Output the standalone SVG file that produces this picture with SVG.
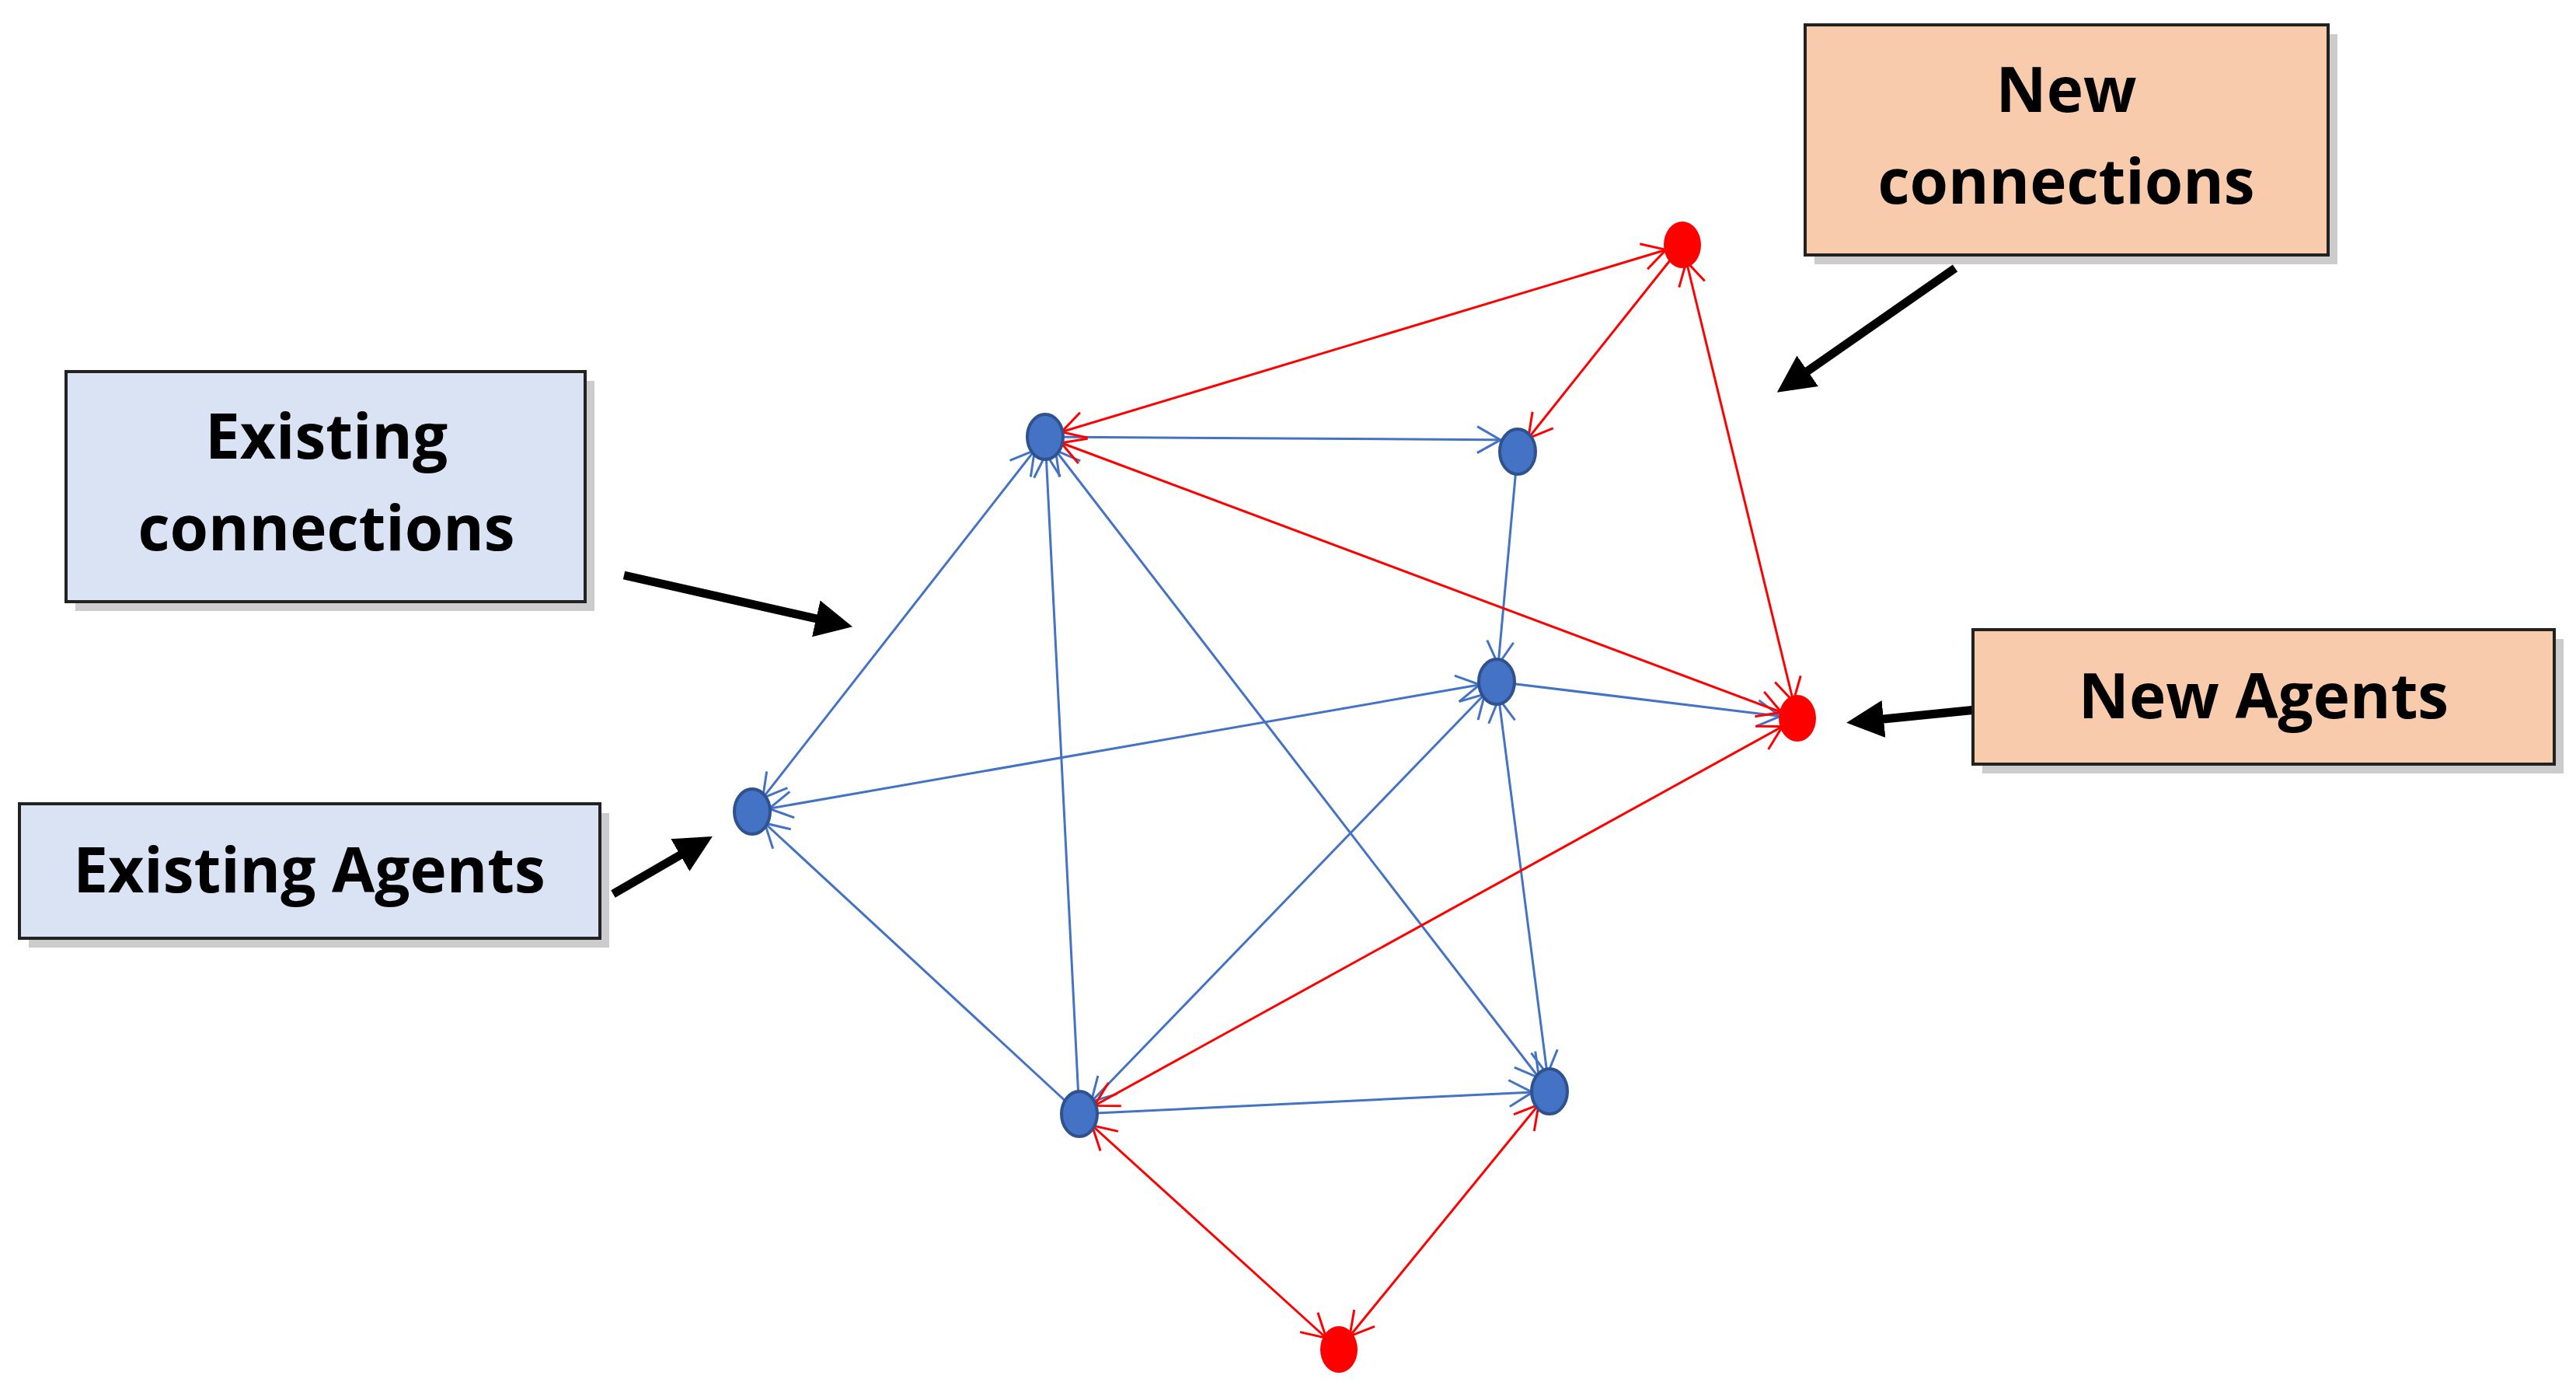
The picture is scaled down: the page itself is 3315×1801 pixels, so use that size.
<svg xmlns="http://www.w3.org/2000/svg" width="3315" height="1801" viewBox="0 0 3315 1801">
<style>
.box{stroke:#222;stroke-width:4}
.sh{fill:#aaa;opacity:.6}
.t{font-family:"Open Sans","Liberation Sans",sans-serif;font-weight:bold;font-size:80px;text-anchor:middle;fill:#000}
.b{stroke:#4472c4;stroke-width:3;fill:none}
.r{stroke:#ff0000;stroke-width:3;fill:none}
.k{stroke:#000;stroke-width:11}
</style>
<defs>
<marker id="mb" markerUnits="userSpaceOnUse" viewBox="-5 -20 70 40" refX="52" refY="0" markerWidth="70" markerHeight="40" orient="auto-start-reverse"><path d="M0,-17 L30,0 L0,17" fill="none" stroke="#4472c4" stroke-width="3"/></marker>
<marker id="mr" markerUnits="userSpaceOnUse" viewBox="-5 -20 70 40" refX="52" refY="0" markerWidth="70" markerHeight="40" orient="auto-start-reverse"><path d="M0,-17 L30,0 L0,17" fill="none" stroke="#ff0000" stroke-width="3"/></marker>
<marker id="mk" markerUnits="userSpaceOnUse" viewBox="0 -25 50 50" refX="10" refY="0" markerWidth="50" markerHeight="50" orient="auto"><path d="M0,-24 L48,0 L0,24 Z" fill="#000"/></marker>
</defs>
<rect width="3315" height="1801" fill="#fff"/>
<g id="connectors">
<line class="b" x1="1345" y1="562" x2="1953" y2="566" marker-end="url(#mb)"/>
<line class="b" x1="968" y1="1044" x2="1345" y2="562" marker-start="url(#mb)" marker-end="url(#mb)"/>
<line class="b" x1="1389" y1="1433" x2="1345" y2="562" marker-end="url(#mb)"/>
<line class="b" x1="1345" y1="562" x2="1994" y2="1404" marker-start="url(#mb)" marker-end="url(#mb)"/>
<line class="b" x1="1953" y1="581" x2="1926" y2="877" marker-end="url(#mb)"/>
<line class="b" x1="1926" y1="877" x2="968" y2="1044" marker-start="url(#mb)" marker-end="url(#mb)"/>
<line class="b" x1="1926" y1="877" x2="2313" y2="924" marker-end="url(#mb)"/>
<line class="b" x1="1926" y1="877" x2="1389" y2="1433" marker-start="url(#mb)" marker-end="url(#mb)"/>
<line class="b" x1="1926" y1="877" x2="1994" y2="1404" marker-start="url(#mb)" marker-end="url(#mb)"/>
<line class="b" x1="1389" y1="1433" x2="968" y2="1044" marker-end="url(#mb)"/>
<line class="b" x1="1389" y1="1433" x2="1994" y2="1404" marker-end="url(#mb)"/>
<line class="r" x1="1345" y1="562" x2="2165" y2="315" marker-start="url(#mr)" marker-end="url(#mr)"/>
<line class="r" x1="2165" y1="315" x2="1953" y2="581" marker-end="url(#mr)"/>
<line class="r" x1="2165" y1="315" x2="2313" y2="924" marker-start="url(#mr)" marker-end="url(#mr)"/>
<line class="r" x1="2313" y1="924" x2="1345" y2="562" marker-start="url(#mr)" marker-end="url(#mr)"/>
<line class="r" x1="2313" y1="924" x2="1389" y2="1433" marker-start="url(#mr)" marker-end="url(#mr)"/>
<line class="r" x1="1723" y1="1736" x2="1389" y2="1433" marker-start="url(#mr)" marker-end="url(#mr)"/>
<line class="r" x1="1723" y1="1736" x2="1994" y2="1404" marker-start="url(#mr)" marker-end="url(#mr)"/>
<line class="k" x1="803" y1="740" x2="1060" y2="798" marker-end="url(#mk)"/>
<line class="k" x1="789" y1="1150" x2="884" y2="1095" marker-end="url(#mk)"/>
<line class="k" x1="2516" y1="345" x2="2318" y2="483" marker-end="url(#mk)"/>
<line class="k" x1="2543" y1="913" x2="2414" y2="926" marker-end="url(#mk)"/>
</g>
<g id="nodes" stroke="#2f528f" stroke-width="4">
<ellipse id="nA" cx="1345" cy="562" rx="23" ry="29" fill="#4472c4"/>
<ellipse id="nB" cx="1953" cy="581" rx="23" ry="29" fill="#4472c4"/>
<ellipse id="nC" cx="968" cy="1044" rx="23" ry="29" fill="#4472c4"/>
<ellipse id="nD" cx="1926" cy="877" rx="23" ry="29" fill="#4472c4"/>
<ellipse id="nE" cx="1389" cy="1433" rx="23" ry="29" fill="#4472c4"/>
<ellipse id="nF" cx="1994" cy="1404" rx="23" ry="29" fill="#4472c4"/>
<ellipse id="nR1" cx="2165" cy="315" rx="24" ry="30" fill="#ff0000" stroke="none"/>
<ellipse id="nR2" cx="2313" cy="924" rx="24" ry="30" fill="#ff0000" stroke="none"/>
<ellipse id="nR3" cx="1723" cy="1736" rx="24" ry="30" fill="#ff0000" stroke="none"/>
</g>
<g id="existing-connections">
<rect class="sh" x="97" y="490" width="668" height="296"/>
<rect class="box" x="85" y="478" width="668" height="296" fill="#dae3f3"/>
<text class="t" x="420" y="590">Existing</text>
<text class="t" x="420" y="708">connections</text>
</g>
<g id="existing-agents">
<rect class="sh" x="37" y="1046" width="747" height="173"/>
<rect class="box" x="25" y="1034" width="747" height="173" fill="#dae3f3"/>
<text class="t" x="398" y="1148">Existing Agents</text>
</g>
<g id="new-connections">
<rect class="sh" x="2335" y="44" width="673" height="296"/>
<rect class="box" x="2323" y="32" width="673" height="296" fill="#f8cbad"/>
<text class="t" x="2659" y="144">New</text>
<text class="t" x="2659" y="262">connections</text>
</g>
<g id="new-agents">
<rect class="sh" x="2551" y="822" width="748" height="173"/>
<rect class="box" x="2539" y="810" width="748" height="173" fill="#f8cbad"/>
<text class="t" x="2913" y="924">New Agents</text>
</g>
</svg>
